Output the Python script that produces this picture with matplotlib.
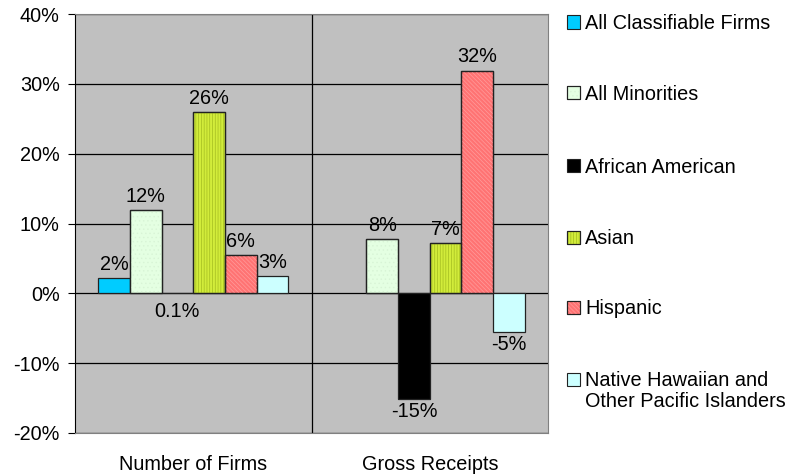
import matplotlib
matplotlib.use('Agg')
import matplotlib.pyplot as plt
from matplotlib.patches import Rectangle
import numpy as np

plt.rcParams['font.family'] = ['Liberation Sans', 'DejaVu Sans']
plt.rcParams['font.size'] = 14.3
plt.rcParams['hatch.linewidth'] = 0.5

categories = ['Number of Firms', 'Gross Receipts']
groups = ['All Classifiable Firms', 'All Minorities', 'African American',
          'Asian', 'Hispanic', 'Native Hawaiian and\nOther Pacific Islanders']
firms_values = [2.2, 11.9, 0.1, 25.9, 5.5, 2.5]
receipts_values = [np.nan, 7.8, -15.1, 7.2, 31.9, -5.5]
firms_labels = ['2%', '12%', '0.1%', '26%', '6%', '3%']
receipts_labels = ['', '8%', '-15%', '7%', '32%', '-5%']
yticks = [-20, -10, 0, 10, 20, 30, 40]
ytick_labels = ['-20%', '-10%', '0%', '10%', '20%', '30%', '40%']

face_colors = ['#00ccff', '#e4ffe2', '#000000', '#d2ec3a', '#ff7373', '#ccffff']
hatch_styles = [None, '....', None, '||||||', '\\' * 8, None]
hatch_colors = [None, '#d8f4d6', None, '#a3bc1f', '#ff9c9c', None]

fig = plt.figure(figsize=(7.99, 4.76), dpi=100)
ax = fig.add_axes([75 / 799, 1 - 433 / 476, (548 - 75) / 799, (433 - 14) / 476])
ax.set_facecolor('#c0c0c0')

bar_w = 0.134
x = np.arange(len(categories)) + 0.5
vals = np.array([firms_values, receipts_values])  # shape (cat, group)
labs = [firms_labels, receipts_labels]

for i in range(len(groups)):
    xs = x + (i - 2.5) * bar_w
    h = vals[:, i]
    ax.bar(xs, h, width=bar_w, color=face_colors[i], edgecolor='#222222',
           linewidth=0.9, zorder=3)
    if hatch_styles[i]:
        ax.bar(xs, h, width=bar_w, fill=False, hatch=hatch_styles[i],
               edgecolor=hatch_colors[i], linewidth=0, zorder=4)
        ax.bar(xs, h, width=bar_w, fill=False, edgecolor='#222222',
               linewidth=0.9, zorder=5)
    for c in range(len(categories)):
        t = labs[c][i]
        if not t:
            continue
        v = vals[c, i]
        below = v < 0 or t == '0.1%'
        off = -6 if t == '0.1%' else (-2 if below else 3)
        ax.annotate(t, (xs[c], v if v < 0 else (0 if below else v)),
                    xytext=(0, off), textcoords='offset points',
                    ha='center', va='top' if below else 'bottom', zorder=6)

ax.set_xlim(0, 2)
ax.set_ylim(-20, 40)
ax.set_yticks(yticks)
ax.set_yticklabels(ytick_labels)
ax.set_xticks(x)
ax.set_xticklabels(categories)
ax.tick_params(axis='x', length=0, pad=16)
ax.tick_params(axis='y', length=5, width=0.8, pad=6, direction='out')
ax.yaxis.grid(True, color='black', linewidth=0.9, zorder=1)
ax.set_axisbelow(True)
ax.axvline(1, color='black', linewidth=0.9, zorder=1)
for s in ['top', 'right', 'bottom']:
    ax.spines[s].set_color('#808080')
ax.spines['left'].set_color('black')

# legend drawn by hand to keep the wide spacing
row_y = [22, 93, 166, 237, 307, 379]
for i, g in enumerate(groups):
    yc = 1 - row_y[i] / 476
    box = (567 / 799, yc - 6.5 / 476)
    bw, bh = 13 / 799, 13 / 476
    fig.add_artist(Rectangle(box, bw, bh, transform=fig.transFigure,
                             facecolor=face_colors[i], edgecolor='#222222',
                             linewidth=0.8))
    if hatch_styles[i]:
        fig.add_artist(Rectangle(box, bw, bh, transform=fig.transFigure,
                                 fill=False, hatch=hatch_styles[i],
                                 edgecolor=hatch_colors[i], linewidth=0))
        fig.add_artist(Rectangle(box, bw, bh, transform=fig.transFigure,
                                 fill=False, edgecolor='#222222', linewidth=0.8))
    fig.text(585 / 799, yc + 8 / 476, g, ha='left', va='top', linespacing=1.15)

fig.savefig('out.png', dpi=100)
